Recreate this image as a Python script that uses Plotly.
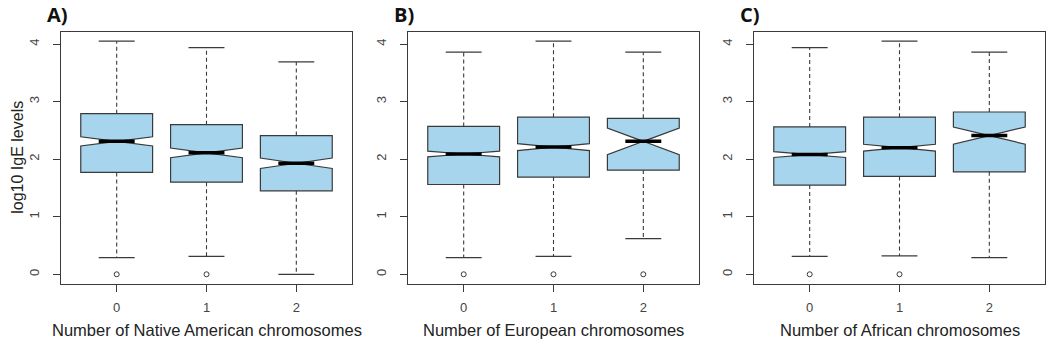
import plotly.graph_objects as go

# ---- data ----
positions = [0, 1, 2]
tick_labels = ["0", "1", "2"]
y_ticks = [0, 1, 2, 3, 4]

panel_letters = ["A)", "B)", "C)"]
x_titles = ["Number of Native American chromosomes",
            "Number of European chromosomes",
            "Number of African chromosomes"]
y_title = "log10 IgE levels"

# Panel A: Native American
a_upper = [4.05, 3.94, 3.69]
a_q3 = [2.79, 2.60, 2.41]
a_med = [2.31, 2.11, 1.93]
a_q1 = [1.77, 1.60, 1.45]
a_lower = [0.29, 0.31, 0.00]
a_notch = [0.08, 0.085, 0.09]
a_outliers = [[0.0], [0.0], []]

# Panel B: European
b_upper = [3.86, 4.05, 3.86]
b_q3 = [2.57, 2.73, 2.71]
b_med = [2.09, 2.21, 2.31]
b_q1 = [1.56, 1.69, 1.81]
b_lower = [0.29, 0.31, 0.62]
b_notch = [0.05, 0.06, 0.23]
b_outliers = [[0.0], [0.0], [0.0]]

# Panel C: African
c_upper = [3.94, 4.05, 3.86]
c_q3 = [2.56, 2.73, 2.82]
c_med = [2.08, 2.20, 2.41]
c_q1 = [1.55, 1.70, 1.78]
c_lower = [0.31, 0.32, 0.29]
c_notch = [0.05, 0.06, 0.15]
c_outliers = [[0.0], [0.0], []]

panels = [
    (a_upper, a_q3, a_med, a_q1, a_lower, a_notch, a_outliers),
    (b_upper, b_q3, b_med, b_q1, b_lower, b_notch, b_outliers),
    (c_upper, c_q3, c_med, c_q1, c_lower, c_notch, c_outliers),
]

# ---- style ----
W, H = 1050, 343
box_fill = "#A7D5EE"
edge = "#3a3a3a"
box_width = 0.8
staple_half = 0.2
notch_half = 0.2
x_range = [-0.62, 2.62]
y_range = [-0.16, 4.21]
x_px = [(61, 352), (408, 699), (754, 1045)]
y_px = (32, 283.5)
font_fam = "Liberation Sans, Arial, sans-serif"

fig = go.Figure()

for p, (up, q3, med, q1, lo, notch, outl) in enumerate(panels):
    xa = "x" if p == 0 else f"x{p+1}"
    ya = "y" if p == 0 else f"y{p+1}"
    # dashed whiskers
    wx, wy = [], []
    for i, pos in enumerate(positions):
        wx += [pos, pos, None, pos, pos, None]
        wy += [q3[i], up[i], None, q1[i], lo[i], None]
    fig.add_trace(go.Scatter(x=wx, y=wy, mode="lines", xaxis=xa, yaxis=ya,
                             line=dict(color=edge, width=1.1, dash="4px,3px"),
                             showlegend=False, hoverinfo="skip"))
    # staples
    sx, sy = [], []
    for i, pos in enumerate(positions):
        sx += [pos - staple_half, pos + staple_half, None,
               pos - staple_half, pos + staple_half, None]
        sy += [up[i], up[i], None, lo[i], lo[i], None]
    fig.add_trace(go.Scatter(x=sx, y=sy, mode="lines", xaxis=xa, yaxis=ya,
                             line=dict(color=edge, width=1.2),
                             showlegend=False, hoverinfo="skip"))
    # notched boxes
    fig.add_trace(go.Box(x=positions, q1=q1, median=med, q3=q3,
                         lowerfence=q1, upperfence=q3, notchspan=notch,
                         notched=True, notchwidth=0.5, width=box_width,
                         whiskerwidth=0, boxpoints=False,
                         fillcolor=box_fill, line=dict(color=edge, width=1.2),
                         xaxis=xa, yaxis=ya, showlegend=False, hoverinfo="skip"))
    # thick medians
    mx, my = [], []
    for i, pos in enumerate(positions):
        mx += [pos - notch_half, pos + notch_half, None]
        my += [med[i], med[i], None]
    fig.add_trace(go.Scatter(x=mx, y=my, mode="lines", xaxis=xa, yaxis=ya,
                             line=dict(color="#000000", width=3.5),
                             showlegend=False, hoverinfo="skip"))
    # outliers
    ox, oy = [], []
    for i, pos in enumerate(positions):
        for v in outl[i]:
            ox.append(pos)
            oy.append(v)
    fig.add_trace(go.Scatter(x=ox, y=oy, mode="markers", xaxis=xa, yaxis=ya,
                             marker=dict(symbol="circle-open", size=5,
                                         color=edge, line=dict(width=1)),
                             showlegend=False, hoverinfo="skip"))

layout = dict(
    width=W, height=H,
    margin=dict(l=0, r=0, t=0, b=0),
    paper_bgcolor="white", plot_bgcolor="white",
    font=dict(family=font_fam, color="#222222"),
    annotations=[],
)

for p in range(3):
    xk = "xaxis" if p == 0 else f"xaxis{p+1}"
    yk = "yaxis" if p == 0 else f"yaxis{p+1}"
    xa = "x" if p == 0 else f"x{p+1}"
    ya = "y" if p == 0 else f"y{p+1}"
    x0, x1 = x_px[p]
    layout[xk] = dict(
        domain=[x0 / W, x1 / W], range=x_range, anchor=ya,
        tickmode="array", tickvals=positions, ticktext=tick_labels,
        showgrid=False, zeroline=False,
        showline=True, mirror=True, linecolor=edge, linewidth=1.2,
        ticks="outside", ticklen=7, tickcolor=edge, tickwidth=1,
        tickfont=dict(size=13, color="#444444"), ticklabelstandoff=5,
    )
    layout[yk] = dict(
        domain=[(H - y_px[1]) / H, (H - y_px[0]) / H], range=y_range,
        anchor=xa,
        tickmode="array", tickvals=y_ticks, ticktext=[str(t) for t in y_ticks],
        tickangle=-90,
        showgrid=False, zeroline=False,
        showline=True, mirror=True, linecolor=edge, linewidth=1.2,
        ticks="outside", ticklen=7, tickcolor=edge, tickwidth=1,
        tickfont=dict(size=13, color="#444444"), ticklabelstandoff=9,
    )
    # x-axis title as annotation centred under the panel
    layout["annotations"].append(dict(
        text=x_titles[p], xref="paper", yref="paper",
        x=(x0 + x1) / 2 / W, y=(H - 330) / H, xanchor="center", yanchor="middle",
        showarrow=False, font=dict(size=16.5, color="#222222"),
    ))
    layout["annotations"].append(dict(
        text=f"<b>{panel_letters[p]}</b>", xref="paper", yref="paper",
        x=(x0 - 4) / W, y=(H - 14) / H, xanchor="center", yanchor="middle",
        showarrow=False, font=dict(size=20, color="#111111",
                                   family="Open Sans, Liberation Sans, sans-serif"),
    ))

# y-axis title (panel A only)
layout["annotations"].append(dict(
    text=y_title, xref="paper", yref="paper", textangle=-90,
    x=18 / W, y=(H - (y_px[0] + y_px[1]) / 2) / H,
    xanchor="center", yanchor="middle", showarrow=False,
    font=dict(size=16, color="#222222"),
))

fig.update_layout(**layout)
fig.write_html("out.html", config={"displayModeBar": False},
               post_script="document.body.style.margin='0';")
